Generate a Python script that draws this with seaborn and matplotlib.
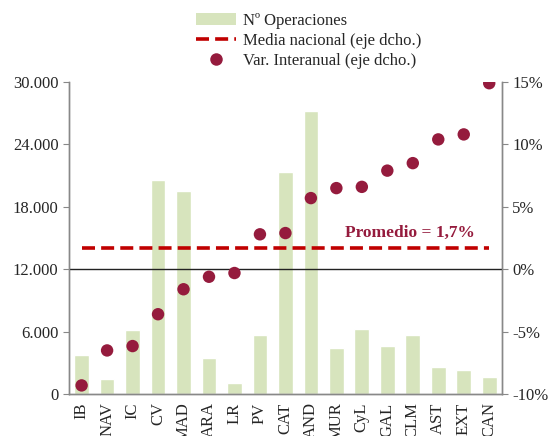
import numpy as np
import pandas as pd
import matplotlib
matplotlib.use("Agg")
import matplotlib.pyplot as plt
from matplotlib.lines import Line2D
from matplotlib.patches import Patch
from matplotlib.ticker import FuncFormatter
import seaborn as sns

regions = ["IB", "NAV", "IC", "CV", "MAD", "ARA", "LR", "PV", "CAT", "AND",
           "MUR", "CyL", "GAL", "CLM", "AST", "EXT", "CAN"]
operaciones = [3750, 1440, 6150, 20580, 19550, 3490, 1030, 5670, 21320, 27210,
               4420, 6280, 4650, 5700, 2570, 2310, 1630]
var_interanual = [-9.3, -6.5, -6.15, -3.6, -1.6, -0.6, -0.3, 2.8, 2.9, 5.7,
                  6.5, 6.6, 7.9, 8.5, 10.4, 10.8, 14.9]
media_nacional = 1.7

sns.set_style("white")
plt.rcParams["font.family"] = ["Liberation Serif", "DejaVu Serif"]

df = pd.DataFrame({"region": regions, "ops": operaciones, "var": var_interanual})
df["x"] = np.arange(len(regions))

fig = plt.figure(figsize=(5.51, 4.36), dpi=100)
ax = fig.add_axes([0.125, 0.096, 0.786, 0.716])

bar_color = "#D7E4BD"
dot_color = "#951B3D"
line_color = "#C00000"

sns.barplot(data=df, x="region", y="ops", color=bar_color, width=0.58,
            saturation=1, ax=ax, zorder=1)
ax.set_xlim(-0.5, len(regions) - 0.5)
ax.set_ylim(0, 30000)
ax.set_yticks(np.arange(0, 30001, 6000))
ax.yaxis.set_major_formatter(FuncFormatter(lambda v, p: f"{int(v):,}".replace(",", ".")))
ax.set_xlabel("")
ax.set_ylabel("")
ax.set_xticks(df["x"])
ax.set_xticklabels(regions, rotation=90)
ax.set_xticks(np.arange(-0.5, len(regions), 1.0), minor=True)
ax.tick_params(axis="x", which="major", length=0, labelsize=12, pad=6)
ax.tick_params(axis="x", which="minor", length=4, color="#888888", direction="out")
ax.tick_params(axis="y", length=4, color="#888888", direction="out", labelsize=12, left=True)

ax2 = ax.twinx()
ax2.set_ylim(-10, 15)
ax2.set_yticks(np.arange(-10, 16, 5))
ax2.yaxis.set_major_formatter(FuncFormatter(lambda v, p: f"{int(v)}%"))
ax2.tick_params(axis="y", length=4, color="#888888", direction="out", labelsize=12, right=True)

ax2.axhline(0, color="#222222", lw=1.0, zorder=2)
ax2.plot([df["x"].iloc[0], df["x"].iloc[-1]], [media_nacional, media_nacional],
         color=line_color, lw=2.6, dashes=(3.6, 1.7), zorder=3)
sns.scatterplot(data=df, x="x", y="var", color=dot_color, s=80, edgecolor="none",
                ax=ax2, zorder=4, legend=False)
ax2.set_xlim(-0.5, len(regions) - 0.5)
ax2.set_ylabel("")
ax2.set_xlabel("")
ax2.text(12.9, 2.9, "Promedio = 1,7%", color=dot_color, fontsize=12.5,
         fontweight="bold", ha="center", va="center")

for a in (ax, ax2):
    a.spines["top"].set_visible(False)
    for s in ("left", "right", "bottom"):
        a.spines[s].set_color("#888888")
        a.spines[s].set_linewidth(1.0)

handles = [
    Patch(facecolor=bar_color, edgecolor="none"),
    Line2D([0], [0], color=line_color, lw=2.6, dashes=(3.6, 1.7)),
    Line2D([0], [0], marker="o", color="none", markerfacecolor=dot_color,
           markeredgecolor="none", markersize=9),
]
labels = ["Nº Operaciones", "Media nacional (eje dcho.)", "Var. Interanual (eje dcho.)"]
fig.legend(handles, labels, loc="upper center", bbox_to_anchor=(0.56, 1.005),
           frameon=False, fontsize=12, handlelength=2.4, labelspacing=0.25,
           handletextpad=0.4)

fig.savefig("out.png", dpi=100)
